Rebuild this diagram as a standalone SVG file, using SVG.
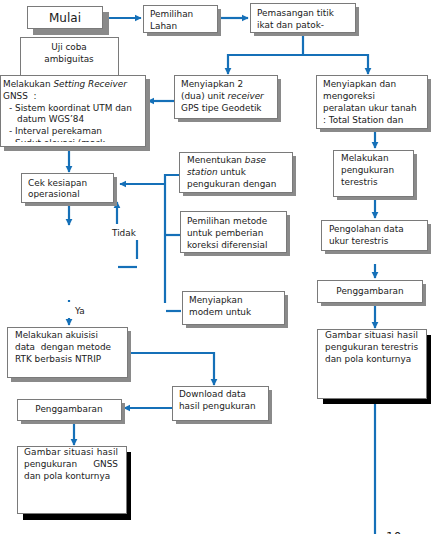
<svg xmlns="http://www.w3.org/2000/svg" width="431" height="534" viewBox="0 0 431 534">
<style>
.b{fill:#fff;stroke:#7a7a7a;stroke-width:1}
.s{fill:#8a8a8a}
.k{fill:#000}
.t{font-family:"DejaVu Sans",Verdana,sans-serif;font-size:8.9px;fill:#1a1a1a;white-space:pre}
.c{fill:none;stroke:#1570b8;stroke-width:2.2}
</style>
<defs>
<marker id="a" viewBox="0 0 10 10" refX="9" refY="5" markerWidth="3.2" markerHeight="3.2" orient="auto" markerUnits="strokeWidth">
<path d="M0,0 L10,5 L0,10 z" fill="#1570b8"/>
</marker>
<clipPath id="cs"><rect x="0" y="75" width="145" height="67"/></clipPath>
<clipPath id="cc"><rect x="21" y="173" width="92" height="25.5"/></clipPath>
<clipPath id="cd"><rect x="172" y="386" width="96" height="34"/></clipPath>
</defs>

<g id="connectors">
<path class="c" d="M108,18 H141" marker-end="url(#a)"/>
<path class="c" d="M220,18 H248" marker-end="url(#a)"/>
<path class="c" d="M303,35 V55 H228 V74" marker-end="url(#a)"/>
<path class="c" d="M303,55 H368 V74" marker-end="url(#a)"/>
<path class="c" d="M174,101 H148" marker-end="url(#a)"/>
<path class="c" d="M69,150 V172" marker-end="url(#a)"/>
<path class="c" d="M375,128 V148" marker-end="url(#a)"/>
<path class="c" d="M375,196 V218" marker-end="url(#a)"/>
<path class="c" d="M375,264 V278" marker-end="url(#a)"/>
<path class="c" d="M375,303 V328" marker-end="url(#a)"/>
<path class="c" d="M375,404 V534"/>
<path class="c" d="M179,175 H165 V303"/>
<path class="c" d="M165,235 H180"/>
<path class="c" d="M166,311 H181"/>
<path class="c" d="M165,184 H120" marker-end="url(#a)"/>
<path class="c" d="M117,224 V202" marker-end="url(#a)"/>
<path class="c" d="M137,240 V259"/>
<path class="c" d="M118,267 H137"/>
<path class="c" d="M69,206 V225" marker-end="url(#a)"/>
<path class="c" d="M69,300 V302"/>
<path class="c" d="M69,318 V325" marker-end="url(#a)"/>
<path class="c" d="M127,353 H214 V385" marker-end="url(#a)"/>
<path class="c" d="M172,408 H124" marker-end="url(#a)"/>
<path class="c" d="M74,424 V445" marker-end="url(#a)"/>
</g>

<g id="uji">
<rect class="b" x="20.5" y="37.5" width="98" height="45"/>
<text class="t" x="69" y="50" text-anchor="middle">Uji coba</text>
<text class="t" x="69" y="62" text-anchor="middle">ambiguitas</text>
</g>

<g id="mulai">
<rect class="s" x="33" y="12" width="76" height="23"/>
<rect class="b" x="27.5" y="6.5" width="75" height="22"/>
<text class="t" x="65" y="22" text-anchor="middle" style="font-size:12px">Mulai</text>
</g>

<g id="pemilihan-lahan">
<rect class="s" x="147" y="9" width="74" height="27"/>
<rect class="b" x="143.5" y="5.5" width="74" height="27"/>
<text class="t" x="150" y="17">Pemilihan</text>
<text class="t" x="150" y="29">Lahan</text>
</g>

<g id="pemasangan">
<rect class="s" x="254" y="7" width="105" height="29"/>
<rect class="b" x="250.5" y="3.5" width="105" height="29"/>
<text class="t" x="257" y="16">Pemasangan titik</text>
<text class="t" x="257" y="28">ikat dan patok-</text>
</g>

<g id="setting">
<rect class="s" x="4" y="79" width="146" height="72"/>
<rect class="b" x="0.5" y="75.5" width="145" height="71"/>
<g clip-path="url(#cs)">
<text class="t" x="3" y="87">Melakukan <tspan font-style="italic">Setting Receiver</tspan></text>
<text class="t" x="3" y="99">GNSS  :</text>
<text class="t" x="9" y="111">- Sistem koordinat UTM dan</text>
<text class="t" x="17" y="122">datum WGS’84</text>
<text class="t" x="9" y="134">- Interval perekaman</text>
<text class="t" x="9" y="146">- Sudut elevasi (mask</text>
</g>
</g>

<g id="receiver">
<rect class="s" x="178" y="79" width="103" height="43"/>
<rect class="b" x="174.5" y="75.5" width="103" height="43"/>
<text class="t" x="181" y="87">Menyiapkan 2</text>
<text class="t" x="181" y="99">(dua) unit <tspan font-style="italic">receiver</tspan></text>
<text class="t" x="181" y="111">GPS tipe Geodetik</text>
</g>

<g id="total-station">
<rect class="s" x="320" y="79" width="111" height="53"/>
<rect class="b" x="316.5" y="75.5" width="111" height="53"/>
<text class="t" x="323" y="87">Menyiapkan dan</text>
<text class="t" x="323" y="99">mengoreksi</text>
<text class="t" x="323" y="111">peralatan ukur tanah</text>
<text class="t" x="323" y="123">: Total Station dan</text>
</g>

<g id="base-station">
<rect class="s" x="183" y="156" width="113" height="40"/>
<rect class="b" x="179.5" y="152.5" width="113" height="40"/>
<text class="t" x="187" y="163">Menentukan <tspan font-style="italic">base</tspan></text>
<text class="t" x="187" y="175"><tspan font-style="italic">station</tspan> untuk</text>
<text class="t" x="187" y="187">pengukuran dengan</text>
</g>

<g id="metode">
<rect class="s" x="184" y="215" width="106" height="41"/>
<rect class="b" x="180.5" y="211.5" width="106" height="41"/>
<text class="t" x="187" y="224">Pemilihan metode</text>
<text class="t" x="187" y="236">untuk pemberian</text>
<text class="t" x="187" y="248">koreksi diferensial</text>
</g>

<g id="modem">
<rect class="s" x="186" y="295" width="102" height="33"/>
<rect class="b" x="182.5" y="291.5" width="102" height="33"/>
<text class="t" x="189" y="303">Menyiapkan</text>
<text class="t" x="189" y="315">modem untuk</text>
</g>

<g id="ukur-terestris">
<rect class="s" x="337" y="154" width="80" height="46"/>
<rect class="b" x="333.5" y="150.5" width="80" height="46"/>
<text class="t" x="341" y="161">Melakukan</text>
<text class="t" x="341" y="173">pengukuran</text>
<text class="t" x="341" y="185">terestris</text>
</g>

<g id="pengolahan">
<rect class="s" x="325" y="224" width="106" height="30"/>
<rect class="b" x="321.5" y="220.5" width="106" height="30"/>
<text class="t" x="329" y="232">Pengolahan data</text>
<text class="t" x="329" y="244">ukur terestris</text>
</g>

<g id="penggambaran-kanan">
<rect class="s" x="321" y="284" width="105" height="22"/>
<rect class="b" x="317.5" y="280.5" width="105" height="22"/>
<text class="t" x="370" y="294" text-anchor="middle">Penggambaran</text>
</g>

<g id="gambar-terestris">
<rect class="k" x="323" y="335" width="108" height="69"/>
<rect class="b" x="317.5" y="329.5" width="109" height="69"/>
<text class="t" x="325" y="338" textLength="93" lengthAdjust="spacing">Gambar situasi hasil</text>
<text class="t" x="325" y="350" textLength="93" lengthAdjust="spacing">pengukuran terestris</text>
<text class="t" x="325" y="362">dan pola konturnya</text>
</g>

<g id="cek">
<rect class="s" x="25" y="177" width="92" height="29"/>
<rect class="b" x="21.5" y="173.5" width="92" height="29"/>
<g clip-path="url(#cc)">
<text class="t" x="28" y="186">Cek kesiapan</text>
<text class="t" x="28" y="197">operasional</text>
</g>
</g>

<g id="labels">
<text class="t" x="112" y="236">Tidak</text>
<text class="t" x="75" y="314">Ya</text>
</g>

<g id="akuisisi">
<rect class="s" x="11" y="331" width="120" height="51"/>
<rect class="b" x="7.5" y="327.5" width="120" height="50"/>
<text class="t" x="15" y="338">Melakukan akuisisi</text>
<text class="t" x="15" y="350">data  dengan metode</text>
<text class="t" x="15" y="362">RTK berbasis NTRIP</text>
</g>

<g id="download">
<rect class="s" x="176" y="390" width="96" height="34"/>
<rect class="b" x="172.5" y="386.5" width="96" height="34"/>
<g clip-path="url(#cd)">
<text class="t" x="179" y="397">Download data</text>
<text class="t" x="179" y="409">hasil pengukuran</text>
<text class="t" x="179" y="426.5">i</text>
</g>
</g>

<g id="penggambaran-kiri">
<rect class="s" x="21" y="403" width="104" height="21"/>
<rect class="b" x="17.5" y="399.5" width="104" height="21"/>
<text class="t" x="69" y="412" text-anchor="middle">Penggambaran</text>
</g>

<g id="gambar-gnss">
<rect class="k" x="23" y="452" width="108" height="68"/>
<rect class="b" x="17.5" y="446.5" width="109" height="67"/>
<text class="t" x="24" y="455" textLength="94" lengthAdjust="spacing">Gambar situasi hasil</text>
<text class="t" y="467"><tspan x="24">pengukuran</tspan><tspan x="118" text-anchor="end">GNSS</tspan></text>
<text class="t" x="24" y="479">dan pola konturnya</text>
</g>

<text class="t" x="386" y="541" style="font-size:12px">10</text>
</svg>
